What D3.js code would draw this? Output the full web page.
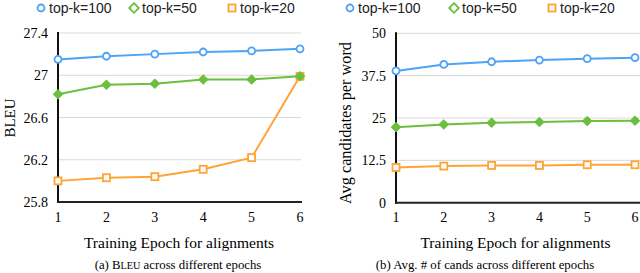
<!DOCTYPE html>
<html>
<head>
<meta charset="utf-8">
<script src="https://cdn.jsdelivr.net/npm/d3@7"></script>
<style>
  body { margin: 0; background: #fff; }
  svg { display: block; }
</style>
</head>
<body>
<svg id="chart" width="640" height="273"></svg>
<script>
const epochs = [1, 2, 3, 4, 5, 6];
const seriesNames = ["top-k=100", "top-k=50", "top-k=20"];
const colors = ["#4da3f7", "#6abf3c", "#ffa334"];
const shapes = ["circle", "diamond", "square"];

// BLEU per epoch
const bleuTop100 = [27.15, 27.18, 27.20, 27.22, 27.23, 27.25];
const bleuTop50 = [26.82, 26.91, 26.92, 26.96, 26.96, 26.99];
const bleuTop20 = [26.00, 26.03, 26.04, 26.11, 26.22, 26.99];
const bleuTicks = [25.8, 26.2, 26.6, 27, 27.4];

// avg candidates per word
const candTop100 = [38.9, 40.8, 41.6, 42.1, 42.5, 42.8];
const candTop50 = [22.3, 23.1, 23.6, 23.8, 24.1, 24.2];
const candTop20 = [10.4, 10.8, 11.0, 11.0, 11.2, 11.2];
const candTicks = [0, 12.5, 25, 37.5, 50];

const svg = d3.select("#chart");
const serif = "'Liberation Serif', 'Times New Roman', serif";
const sans = "'Liberation Sans', Arial, sans-serif";

function marker(sel, shape, color, filled) {
  if (shape === "circle") {
    sel.append("circle").attr("r", 3.5)
      .attr("fill", "#fff").attr("stroke", color).attr("stroke-width", 1.8);
  } else if (shape === "diamond") {
    sel.append("path").attr("d", "M0,-4.8L4.8,0L0,4.8L-4.8,0Z")
      .attr("fill", filled ? color : "#fff").attr("stroke", color).attr("stroke-width", filled ? 1 : 1.8);
  } else {
    sel.append("rect").attr("x", -3.5).attr("y", -3.5).attr("width", 7).attr("height", 7)
      .attr("fill", "#fff").attr("stroke", color).attr("stroke-width", 1.8);
  }
}

function drawPanel(opt) {
  const g = svg.append("g");
  const x = d3.scaleLinear().domain([1, 6]).range([opt.x0, opt.x1]);
  const y = d3.scaleLinear().domain(opt.domain).range([opt.y0, opt.y1]);

  // gridlines
  g.selectAll(".grid")
    .data(opt.ticks.slice(1))
    .enter()
    .append("line")
    .attr("x1", opt.x0)
    .attr("x2", opt.gridEnd)
    .attr("y1", d => y(d))
    .attr("y2", d => y(d))
    .attr("stroke", "#d9d9d9")
    .attr("stroke-width", 1);

  // y tick labels
  g.selectAll(".ylab")
    .data(opt.ticks)
    .enter()
    .append("text")
    .attr("x", opt.x0 - 10)
    .attr("y", d => y(d) + 5)
    .attr("text-anchor", "end")
    .style("font-family", serif)
    .style("font-size", "14px")
    .text(d => d);

  // x tick labels
  g.selectAll(".xlab")
    .data(epochs)
    .enter()
    .append("text")
    .attr("x", d => x(d))
    .attr("y", 222)
    .attr("text-anchor", "middle")
    .style("font-family", serif)
    .style("font-size", "14px")
    .text(d => d);

  // axes
  g.append("line")
    .attr("x1", opt.x0).attr("x2", opt.x0)
    .attr("y1", y(opt.domain[1]) - 1).attr("y2", y(opt.domain[0]) + 1)
    .attr("stroke", "#111").attr("stroke-width", 2);
  g.append("line")
    .attr("x1", opt.x0 - 1).attr("x2", opt.axisEnd)
    .attr("y1", y(opt.domain[0])).attr("y2", y(opt.domain[0]))
    .attr("stroke", "#222").attr("stroke-width", 2);

  const line = d3.line()
    .x((d, i) => x(epochs[i]))
    .y(d => y(d));

  // draw top-k=20 first so the others sit on top of it
  const order = [2, 1, 0];
  order.forEach(s => {
    g.append("path")
      .datum(opt.series[s])
      .attr("d", line)
      .attr("fill", "none")
      .attr("stroke", colors[s])
      .attr("stroke-width", 2);
  });

  order.forEach(s => {
    g.selectAll(null)
      .data(opt.series[s])
      .enter()
      .append("g")
      .attr("transform", (d, i) => `translate(${x(epochs[i])},${y(d)})`)
      .each(function () { marker(d3.select(this), shapes[s], colors[s], true); });
  });

  // legend
  g.selectAll(".legend")
    .data(seriesNames)
    .enter()
    .append("g")
    .attr("transform", (d, i) => `translate(${opt.legendX[i]}, 8)`)
    .each(function (d, i) {
      const lg = d3.select(this);
      marker(lg, shapes[i], colors[i], false);
      lg.append("text")
        .attr("x", 8)
        .attr("y", 5)
        .style("font-family", sans)
        .style("font-size", "14px")
        .style("fill", "#222")
        .text(d);
    });

  // axis titles
  g.append("text")
    .attr("x", (opt.x0 + opt.x1) / 2)
    .attr("y", 248)
    .attr("text-anchor", "middle")
    .style("font-family", serif)
    .style("font-size", "15.5px")
    .text("Training Epoch for alignments");

  g.append("text")
    .attr("transform", `translate(${opt.yTitleX},${opt.yTitleY}) rotate(-90)`)
    .attr("text-anchor", "middle")
    .style("font-family", serif)
    .style("font-size", opt.yTitleSize)
    .text(opt.yTitle);

  // caption
  const cap = g.append("text")
    .attr("x", opt.capX)
    .attr("y", 269)
    .attr("text-anchor", "middle")
    .style("font-family", serif)
    .style("font-size", "12.8px");
  opt.caption.forEach(p => {
    cap.append("tspan").style("font-size", p.small ? "10.2px" : "12.8px").text(p.t);
  });

  return g;
}

drawPanel({
  x0: 58, x1: 300, gridEnd: 301, axisEnd: 302,
  y0: 202, y1: 33, domain: [25.8, 27.4], ticks: bleuTicks,
  series: [bleuTop100, bleuTop50, bleuTop20],
  legendX: [41, 134, 232],
  yTitle: "BLEU", yTitleX: 15, yTitleY: 118, yTitleSize: "15px",
  capX: 178,
  caption: [{ t: "(a) B" }, { t: "LEU", small: true }, { t: " across different epochs" }]
});

drawPanel({
  x0: 396, x1: 635, gridEnd: 640, axisEnd: 640,
  y0: 202.7, y1: 33.3, domain: [0, 50], ticks: candTicks,
  series: [candTop100, candTop50, candTop20],
  legendX: [350, 454, 552],
  yTitle: "Avg candidates per word", yTitleX: 351, yTitleY: 123, yTitleSize: "16.3px",
  capX: 485,
  caption: [{ t: "(b) Avg. # of cands across different epochs" }]
});
</script>
</body>
</html>
